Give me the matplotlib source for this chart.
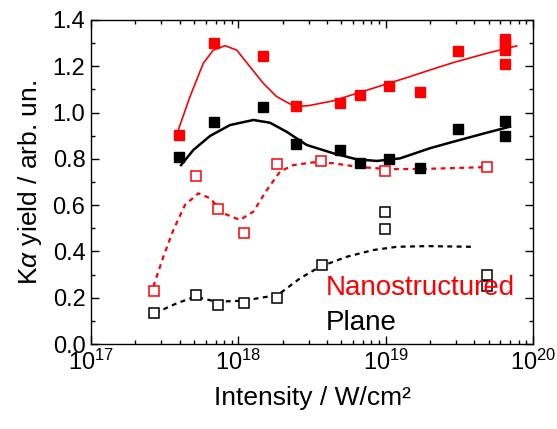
import numpy as np
import matplotlib
matplotlib.use("Agg")
import matplotlib.pyplot as plt
from matplotlib.ticker import LogLocator, MultipleLocator, NullFormatter

plt.rcParams['font.family'] = ['Liberation Sans', 'DejaVu Sans']
plt.rcParams['mathtext.fontset'] = 'custom'
plt.rcParams['mathtext.rm'] = 'Liberation Sans'
plt.rcParams['mathtext.it'] = 'Liberation Sans:italic'

## measured points (log10 of intensity in W/cm^2, yield)
nano_logI = [17.597, 17.837, 18.165, 18.391, 18.688, 18.826, 19.023, 19.233, 19.491,
             19.812, 19.812, 19.812, 19.812]
nano_y    = [0.903, 1.30, 1.245, 1.03, 1.043, 1.076, 1.115, 1.088, 1.267,
             1.32, 1.30, 1.27, 1.21]

plane_logI = [17.597, 17.837, 18.165, 18.391, 18.688, 18.826, 19.023, 19.233, 19.491,
              19.812, 19.812]
plane_y    = [0.81, 0.96, 1.025, 0.864, 0.838, 0.783, 0.80, 0.762, 0.93, 0.965, 0.899]

nano_open_logI = [17.426, 17.713, 17.86, 18.038, 18.262, 18.563, 18.995, 19.688]
nano_open_y    = [0.23, 0.727, 0.585, 0.481, 0.779, 0.789, 0.746, 0.765]

plane_open_logI = [17.426, 17.713, 17.86, 18.038, 18.262, 18.57, 18.995, 18.995, 19.688, 19.688]
plane_open_y    = [0.133, 0.21, 0.169, 0.179, 0.2, 0.341, 0.569, 0.495, 0.298, 0.25]

## guide curves
nano_fit_logI = [17.584, 17.672, 17.762, 17.830, 17.910, 17.989, 18.079, 18.170, 18.260,
                 18.351, 18.441, 18.486, 18.645, 18.803, 18.984, 19.143, 19.301, 19.459,
                 19.686, 19.889]
nano_fit_y    = [0.910, 1.069, 1.213, 1.270, 1.289, 1.270, 1.198, 1.126, 1.069,
                 1.037, 1.028, 1.031, 1.051, 1.083, 1.119, 1.151, 1.184, 1.216,
                 1.256, 1.288]

plane_fit_logI = [17.611, 17.694, 17.808, 17.943, 18.102, 18.215, 18.328, 18.464, 18.645,
                  18.803, 18.939, 19.097, 19.301, 19.459, 19.686, 19.844]
plane_fit_y    = [0.773, 0.838, 0.899, 0.946, 0.968, 0.956, 0.917, 0.860, 0.824,
                  0.798, 0.791, 0.802, 0.846, 0.874, 0.913, 0.939]

nano_open_fit_logI = [17.423, 17.491, 17.559, 17.638, 17.728, 17.808, 17.898, 18.011, 18.102,
                      18.193, 18.283, 18.373, 18.509, 18.645, 18.803, 19.007, 19.233, 19.663]
nano_open_fit_y    = [0.248, 0.377, 0.493, 0.601, 0.651, 0.630, 0.565, 0.536, 0.572,
                      0.665, 0.745, 0.773, 0.785, 0.781, 0.766, 0.756, 0.756, 0.764]

plane_open_fit_logI = [17.434, 17.582, 17.706, 17.853, 18.034, 18.193, 18.283, 18.419, 18.554,
                       18.736, 18.916, 19.075, 19.279, 19.595]
plane_open_fit_y    = [0.133, 0.176, 0.204, 0.183, 0.187, 0.204, 0.219, 0.284, 0.334,
                       0.377, 0.406, 0.420, 0.423, 0.420]

def I(logs):
    return 10 ** np.array(logs)

fig = plt.figure(figsize=(5.57, 4.29), dpi=100)
ax = fig.add_axes([0.1634, 0.1981, 0.7935, 0.7553])

# curves
ax.plot(I(nano_fit_logI), nano_fit_y, color='red', lw=1.2)
ax.plot(I(plane_fit_logI), plane_fit_y, color='black', lw=1.8)
ax.plot(I(nano_open_fit_logI), nano_open_fit_y, color='red', lw=1.6, dashes=(2.2, 2.0))
ax.plot(I(plane_open_fit_logI), plane_open_fit_y, color='black', lw=1.6, dashes=(2.2, 2.0))

# markers
ax.plot(I(nano_logI), nano_y, 's', color='red', ms=7.5, mec='red')
ax.plot(I(plane_logI), plane_y, 's', color='black', ms=7.5)
ax.plot(I(nano_open_logI), nano_open_y, 's', mfc='white', mec='red', ms=6.5, mew=1.1)
ax.plot(I(plane_open_logI), plane_open_y, 's', mfc='white', mec='black', ms=6.5, mew=1.1)

ax.set_xscale('log')
ax.set_xlim(1e17, 1e20)
ax.set_ylim(0, 1.4)
ax.yaxis.set_major_locator(MultipleLocator(0.2))
ax.yaxis.set_minor_locator(MultipleLocator(0.1))
ax.yaxis.set_major_formatter(plt.FuncFormatter(lambda v, p: "%.1f" % v))
ax.xaxis.set_major_locator(LogLocator(base=10, numticks=10))
ax.xaxis.set_minor_locator(LogLocator(base=10, subs=np.arange(2, 10), numticks=30))
ax.xaxis.set_minor_formatter(NullFormatter())

ax.tick_params(which='both', direction='in', top=True, right=True, width=1)
ax.tick_params(which='major', length=6, labelsize=17, pad=4)
ax.tick_params(which='minor', length=3)
for s in ax.spines.values():
    s.set_linewidth(1)

ax.set_xlabel("Intensity / W/cm²", fontsize=19, labelpad=8)
ax.set_ylabel("K$\\alpha$ yield / arb. un.", fontsize=19, labelpad=6)

ax.text(0.532, 0.173, "Nanostructured", color='red', fontsize=20,
        transform=ax.transAxes, ha='left', va='center')
ax.text(0.532, 0.065, "Plane", color='black', fontsize=20,
        transform=ax.transAxes, ha='left', va='center')

fig.savefig("out.png", dpi=100)
